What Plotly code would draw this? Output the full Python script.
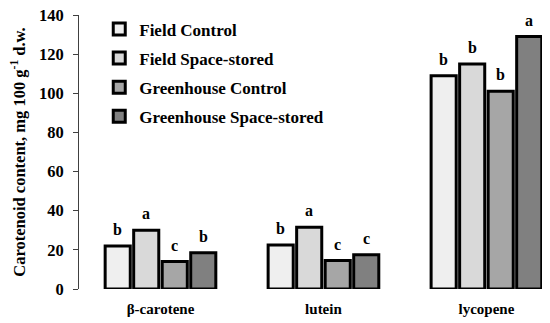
import plotly.graph_objects as go

categories = ["β-carotene", "lutein", "lycopene"]
series_names = ["Field Control", "Field Space-stored", "Greenhouse Control", "Greenhouse Space-stored"]
values = {
    "Field Control": [22, 22.5, 109],
    "Field Space-stored": [30, 31.5, 115],
    "Greenhouse Control": [14, 14.5, 101],
    "Greenhouse Space-stored": [18.5, 17.5, 129],
}
letters = {
    "Field Control": ["b", "b", "b"],
    "Field Space-stored": ["a", "a", "b"],
    "Greenhouse Control": ["c", "c", "b"],
    "Greenhouse Space-stored": ["b", "c", "a"],
}
colors = ["#efefef", "#d9d9d9", "#a6a6a6", "#808080"]
ytick_vals = [0, 20, 40, 60, 80, 100, 120, 140]

FONT = "Liberation Serif"
bargap = 0.3
bargroupgap = 0.12

fig = go.Figure()
for i, name in enumerate(series_names):
    fig.add_trace(go.Bar(
        name=name, x=categories, y=values[name],
        marker=dict(color=colors[i], line=dict(color="black", width=3)),
        legendgroup=name,
    ))

annotations = []
n = len(series_names)
slot = (1 - bargap) / n
for i, name in enumerate(series_names):
    off = -(1 - bargap) / 2 + slot * (i + 0.5)
    for j, cat in enumerate(categories):
        annotations.append(dict(
            x=j + off, y=values[name][j], xref="x", yref="y",
            text=f"<b>{letters[name][j]}</b>", showarrow=False,
            yanchor="bottom", yshift=6,
            font=dict(family=FONT, size=16, color="black"),
        ))

fig.update_layout(
    width=550, height=323,
    margin=dict(l=71, r=8, t=7, b=42, autoexpand=False),
    paper_bgcolor="white", plot_bgcolor="white",
    barmode="group", bargap=bargap, bargroupgap=bargroupgap,
    font=dict(family=FONT, color="black"),
    legend=dict(
        x=0.043, y=1.013, xanchor="left", yanchor="top",
        font=dict(family=FONT, size=17, color="black", weight="bold"),
        tracegroupgap=4, bgcolor="rgba(0,0,0,0)",
        itemwidth=30,
    ),
    annotations=annotations,
    xaxis=dict(
        range=[-0.5, 2.39], showline=False, showgrid=False, ticks="",
        tickfont=dict(family=FONT, size=15, color="black", weight="bold"),
        zeroline=False, ticklabelstandoff=9, automargin=False,
    ),
    yaxis=dict(
        range=[0, 140], tickvals=ytick_vals, showgrid=False, zeroline=False,
        showline=True, linecolor="#404040", linewidth=1,
        ticks="outside", ticklen=5, tickcolor="#404040",
        ticklabelstandoff=6, ticklabeloverflow="allow", automargin=False,
        tickfont=dict(family=FONT, size=16.5, color="black", weight="bold"),
        title=dict(text="Carotenoid content, mg 100 g<sup>-1</sup> d.w.",
                   font=dict(family=FONT, size=16.5, color="black", weight="bold"),
                   standoff=21),
    ),
)

fig.write_html("out.html")
